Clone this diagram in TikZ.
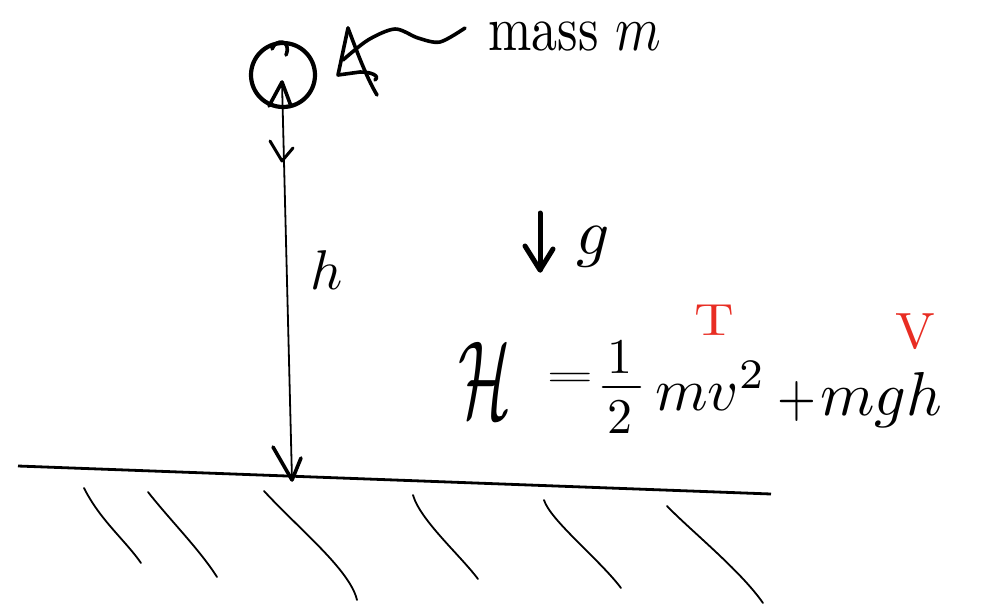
\documentclass[tikz,border=0pt]{standalone}
\usepackage{amsmath}
\definecolor{inkred}{RGB}{232,45,35}
\newcommand{\bigtxt}[3]{\scalebox{#1}[#2]{#3}}
\begin{document}
\begin{tikzpicture}[x=1pt,y=-1pt,
  hand/.style={line width=1.8pt, line cap=round, line join=round},
  bold/.style={line width=3.6pt, line cap=round, line join=round},
  txt/.style={inner sep=0pt, anchor=center},
  redtxt/.style={txt, text=inkred}]
\useasboundingbox (0,0) rectangle (986,603);
% mass
\node[draw, circle, minimum size=64pt, line width=4.2pt, inner sep=0pt] (mass) at (283,75) {};
\draw[bold] (272,49) .. controls (276,38) and (292,40) .. (286,55);
% height arrow
\coordinate (top) at (282,82);
\coordinate (ground) at (292,480);
\draw[hand] (top) -- (ground);
\draw[bold] (269,106) -- (top) -- (291,106);
\draw[line width=3pt, line cap=round, line join=round] (270,141) -- (282,161) -- (293,148);
\draw[bold] (273,447) -- (ground) -- (301,458);
\node[txt] (hlabel) at (327,270) {\bigtxt{5.6}{5.6}{$h$}};
% ground
\coordinate (gl) at (18,466);
\coordinate (gr) at (771,494);
\draw[line width=2.8pt] (gl) -- (gr);
\draw[hand] (84,488) .. controls (100,520) and (125,540) .. (141,563);
\draw[hand] (148,492) .. controls (170,520) and (200,550) .. (217,577);
\draw[hand] (264,491) .. controls (300,530) and (350,570) .. (357,600);
\draw[hand] (413,495) .. controls (420,520) and (460,555) .. (478,579);
\draw[hand] (544,500) .. controls (550,520) and (600,560) .. (621,588);
\draw[hand] (667,506) .. controls (690,530) and (740,570) .. (763,603);
% pointer
\coordinate (ptail) at (465,28);
\draw[bold] plot[smooth] coordinates {(343,60) (368,40) (395,29) (418,38) (440,42) (465,28)};
\draw[bold] (348,28) -- (338,75) -- (360,72) .. controls (372,72) and (380,76) .. (375,80);
\draw[bold] (348,28) .. controls (360,60) and (368,80) .. (377,95);
\node[txt, anchor=base west] (masslbl) at (488,50) {\bigtxt{5.2}{6.4}{mass $m$}};
% gravity
\coordinate (gtop) at (540,213);
\coordinate (gbot) at (540,270);
\draw[line width=5pt, line cap=round] (gtop) -- (gbot);
\draw[line width=5pt, line cap=round, line join=round] (525,246) -- (gbot) -- (553,249);
\node[txt, anchor=base] (glbl) at (593,254) {\bigtxt{6.5}{6.5}{$g$}};
% Hamiltonian
\node[txt] (H) at (485,380) {\bigtxt{6.2}{11}{$\mathcal{H}$}};
\node[txt] (eq) at (570,380) {\bigtxt{6}{3.6}{$=$}};
\node[txt] (one) at (620,357) {\bigtxt{5}{5}{$1$}};
\node[txt] (two) at (620,417) {\bigtxt{5}{5}{$2$}};
\draw[line width=2.6pt, line cap=round] (603,387) -- (640,387);
\node[txt, anchor=base west] (mv) at (655,410) {\bigtxt{6}{6}{$mv^2$}};
\node[txt] (plus) at (797,401) {\bigtxt{5}{6}{$+$}};
\node[txt, anchor=base west] (mgh) at (820,415) {\bigtxt{6.2}{6.2}{$mgh$}};
\node[redtxt] (T) at (714,320) {\bigtxt{5.5}{4.5}{T}};
\node[redtxt] (V) at (915,332) {\bigtxt{5.3}{5.1}{V}};
\end{tikzpicture}
\end{document}
